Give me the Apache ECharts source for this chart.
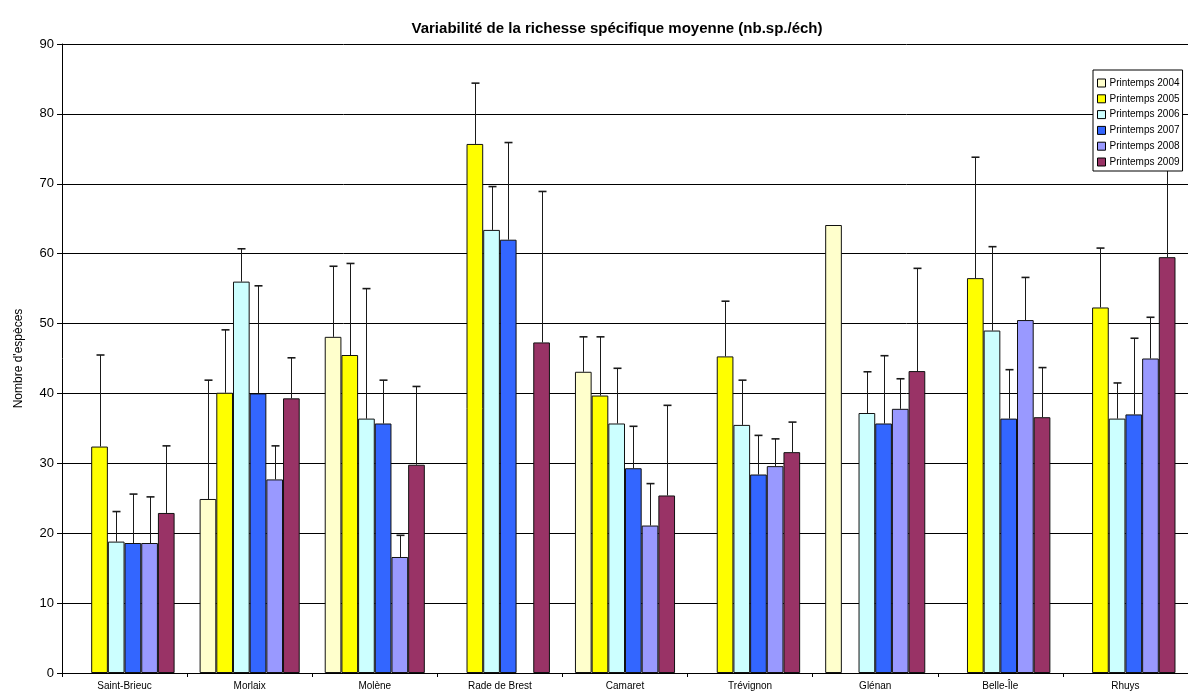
<!DOCTYPE html>
<html>
<head>
<meta charset="utf-8">
<title>Richesse spécifique moyenne</title>
<script src="https://cdn.jsdelivr.net/npm/echarts@6/dist/echarts.min.js"></script>
<style>
  html, body { margin: 0; padding: 0; background: #fff; }
  #chart { width: 1188px; height: 692px; }
</style>
</head>
<body>
<div id="chart"></div>
<script>
// Sites (categories along the x axis)
const sites = ['Saint-Brieuc', 'Morlaix', 'Molène', 'Rade de Brest', 'Camaret', 'Trévignon', 'Glénan', 'Belle-Île', 'Rhuys'];

// Seasons shown as series
const seasons = ['Printemps 2004', 'Printemps 2005', 'Printemps 2006', 'Printemps 2007', 'Printemps 2008', 'Printemps 2009'];

// Mean species richness per site (null = no sampling)
const mean2004 = [null, 24.9, 48.1, null, 43.1, null, 64.1, null, null];
const mean2005 = [32.4, 40.1, 45.5, 75.7, 39.7, 45.3, null, 56.5, 52.3];
const mean2006 = [18.8, 56.0, 36.4, 63.4, 35.7, 35.5, 37.2, 49.0, 36.4];
const mean2007 = [18.6, 40.0, 35.7, 62.0, 29.3, 28.4, 35.7, 36.4, 37.0];
const mean2008 = [18.6, 27.7, 16.6, null, 21.1, 29.6, 37.8, 50.5, 45.0];
const mean2009 = [22.9, 39.3, 29.8, 47.3, 25.4, 31.6, 43.2, 36.6, 59.5];

// Standard deviation (upper whisker length)
const sd2004 = [null, 17.0, 10.1, null, 5.0, null, null, null, null];
const sd2005 = [13.1, 9.0, 13.1, 8.7, 8.4, 7.9, null, 17.3, 8.5];
const sd2006 = [4.3, 4.7, 18.6, 6.2, 7.9, 6.4, 5.9, 12.0, 5.1];
const sd2007 = [7.0, 15.4, 6.2, 13.9, 6.0, 5.6, 9.7, 7.0, 10.9];
const sd2008 = [6.6, 4.8, 3.1, null, 6.0, 3.9, 4.3, 6.1, 5.9];
const sd2009 = [9.6, 5.8, 11.2, 21.6, 12.9, 4.3, 14.7, 7.1, 14.5];

// Y axis ticks
const yTicks = [0, 10, 20, 30, 40, 50, 60, 70, 80, 90];

const means = [mean2004, mean2005, mean2006, mean2007, mean2008, mean2009];
const sds = [sd2004, sd2005, sd2006, sd2007, sd2008, sd2009];
const colors = ['#FFFFCC', '#FFFF00', '#CCFFFF', '#3366FF', '#9999FF', '#993366'];

const FONT = 'Liberation Sans, Arial, sans-serif';
const NB = seasons.length;
const CAT_GAP = 0.2; // fraction of the band left empty around each group

function errorRenderer(k) {
  return function (params, api) {
    const ci = api.value(0);
    const m = api.value(1);
    const s = api.value(2);
    const base = api.coord([ci, m]);
    const band = api.size([1, 0])[0];
    const bw = band * (1 - CAT_GAP) / NB;
    const x = Math.round(base[0] - band * (1 - CAT_GAP) / 2 + (k + 0.5) * bw) + 0.5;
    const top = api.coord([ci, m + s])[1];
    const style = { stroke: '#1a1a1a', lineWidth: 1 };
    return {
      type: 'group',
      children: [
        { type: 'line', shape: { x1: x, y1: base[1], x2: x, y2: top }, style: style },
        { type: 'line', shape: { x1: x - 4, y1: top, x2: x + 4, y2: top }, style: { stroke: '#1a1a1a', lineWidth: 1.6 } }
      ]
    };
  };
}

const series = [];
seasons.forEach(function (name, k) {
  series.push({
    name: name,
    type: 'bar',
    data: means[k],
    barGap: '0%',
    barCategoryGap: (CAT_GAP * 100) + '%',
    itemStyle: { color: colors[k], borderColor: '#111', borderWidth: 1 },
    emphasis: { disabled: true },
    z: 2
  });
});
seasons.forEach(function (name, k) {
  const data = [];
  means[k].forEach(function (m, i) {
    if (m != null && sds[k][i] != null) data.push([i, m, sds[k][i]]);
  });
  series.push({
    name: 'err ' + name,
    type: 'custom',
    renderItem: errorRenderer(k),
    data: data,
    encode: { x: 0, y: 1 },
    silent: true,
    z: 3
  });
});

const chart = echarts.init(document.getElementById('chart'), null, { renderer: 'canvas' });
chart.setOption({
  animation: false,
  backgroundColor: '#fff',
  title: {
    text: 'Variabilité de la richesse spécifique moyenne (nb.sp./éch)',
    left: 612,
    top: 16,
    textAlign: 'center',
    textStyle: { fontFamily: FONT, fontSize: 15, fontWeight: 'bold', color: '#000' }
  },
  legend: {
    data: seasons,
    orient: 'vertical',
    left: 1093,
    top: 70,
    padding: [8, 3, 4, 4],
    itemWidth: 8,
    itemHeight: 8,
    itemGap: 5.8,
    icon: 'rect',
    backgroundColor: '#fff',
    borderColor: '#000',
    borderWidth: 1,
    borderRadius: 0,
    itemStyle: { borderColor: '#000', borderWidth: 1 },
    textStyle: { fontFamily: FONT, fontSize: 10, color: '#000', padding: [0, 0, 0, -1] },
    selectedMode: false
  },
  grid: { left: 62, right: -12, top: 44, bottom: 19, containLabel: false },
  xAxis: {
    type: 'category',
    data: sites,
    axisLine: { show: true, lineStyle: { color: '#000', width: 1 } },
    axisTick: { show: true, alignWithLabel: false, length: 4, lineStyle: { color: '#000' } },
    axisLabel: { fontFamily: FONT, fontSize: 10, color: '#000', margin: 8, interval: 0 },
    splitLine: { show: false }
  },
  yAxis: {
    type: 'value',
    min: yTicks[0],
    max: yTicks[yTicks.length - 1],
    interval: yTicks[1] - yTicks[0],
    name: "Nombre d'espèces",
    nameLocation: 'middle',
    nameGap: 37,
    nameTextStyle: { fontFamily: FONT, fontSize: 12, color: '#000' },
    axisLine: { show: true, lineStyle: { color: '#000', width: 1 } },
    axisTick: { show: true, length: 5, lineStyle: { color: '#000' } },
    axisLabel: { fontFamily: FONT, fontSize: 13, color: '#000', margin: 8 },
    splitLine: { show: true, lineStyle: { color: '#000', width: 1 } }
  },
  series: series
});
</script>
</body>
</html>
